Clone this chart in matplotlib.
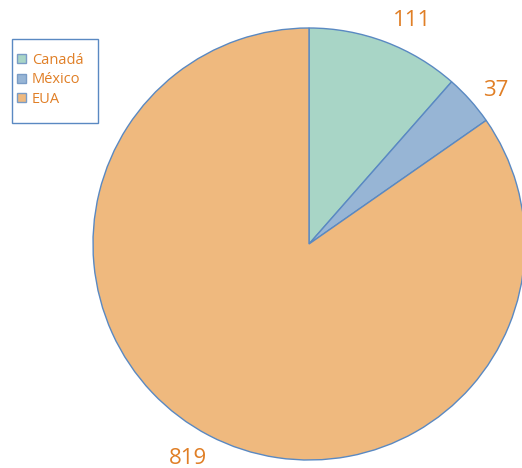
import numpy as np
import matplotlib.pyplot as plt
from matplotlib.patches import Rectangle

paises = ['Canadá', 'México', 'EUA']
valores = [111, 37, 819]
cores = ['#a8d5c6', '#97b5d5', '#efb97e']

plt.rcParams['font.family'] = ['Open Sans', 'DejaVu Sans']
laranja = '#e07f26'
borda = '#5a89c2'

W, H = 522, 468
fig = plt.figure(figsize=(W / 100, H / 100), dpi=100)
ax = fig.add_axes([0, 0, 1, 1])
ax.set_xlim(0, W)
ax.set_ylim(0, H)
ax.set_aspect('equal')
ax.axis('off')

cx, cy, r = 309, H - 244, 216
wedges, _ = ax.pie(valores, colors=cores, startangle=90, counterclock=False,
                   center=(cx, cy), radius=r,
                   wedgeprops=dict(edgecolor=borda, linewidth=1.0))
ax.set_xlim(0, W)
ax.set_ylim(0, H)

# rotulos de valor, um pouco fora do circulo
ajuste = [-4, -2.5, -2]
dist = [1.14, 1.12, 1.14]
for w, v, a, d in zip(wedges, valores, ajuste, dist):
    ang = np.deg2rad((w.theta1 + w.theta2) / 2 + a)
    ax.text(cx + d * r * np.cos(ang), cy + d * r * np.sin(ang), str(v),
            color=laranja, fontsize=16, ha='center', va='center')

# legenda com moldura
fig.patches.append(Rectangle((12 / W, 1 - 123 / H), 86 / W, 84 / H,
                             transform=fig.transFigure, fill=False,
                             edgecolor=borda, linewidth=1.0))
leg = fig.legend(wedges, paises, loc='upper left',
                 bbox_to_anchor=(17 / W, 1 - 53 / H), frameon=False,
                 fontsize=10.5, handlelength=0.62, handleheight=0.55,
                 handletextpad=0.4, labelspacing=0.3, borderpad=0,
                 borderaxespad=0)
for t in leg.get_texts():
    t.set_color(laranja)
for h in leg.legend_handles:
    h.set_edgecolor('#7a9cc6')
    h.set_linewidth(1.0)

fig.savefig('out.png', dpi=100)
